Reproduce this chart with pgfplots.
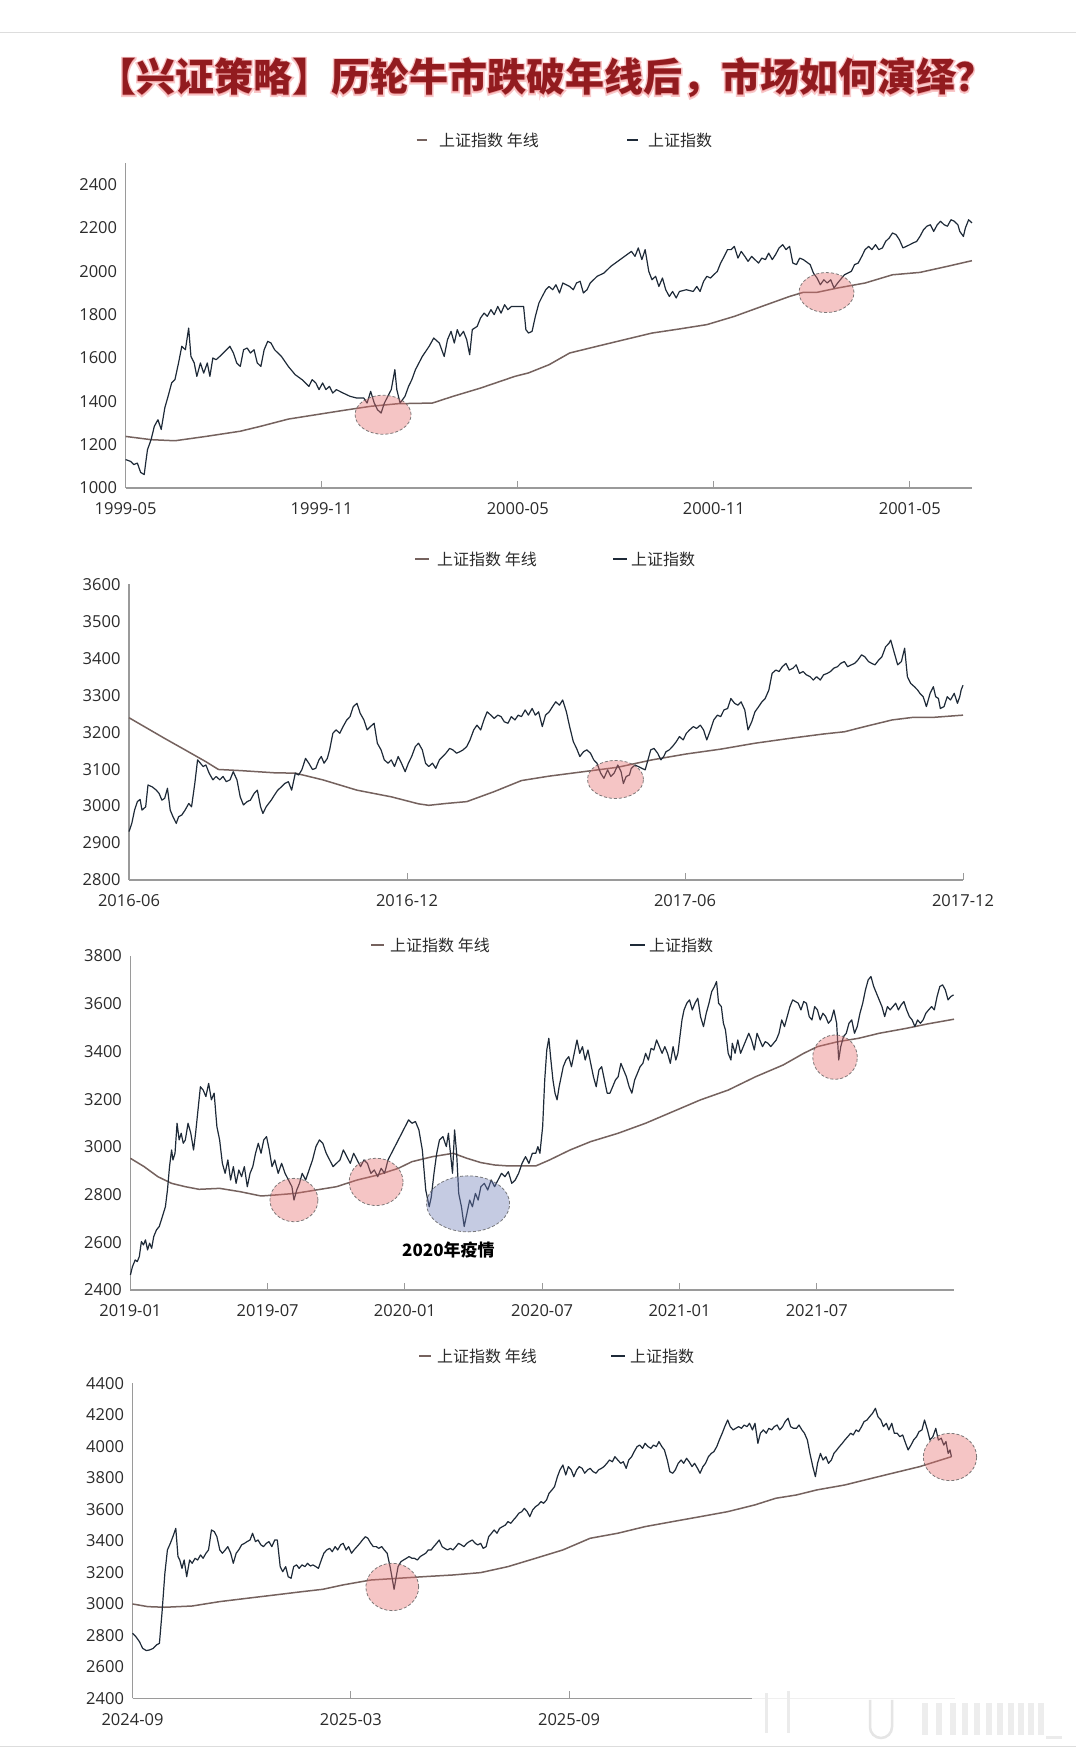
\documentclass[border=0pt]{standalone}
\usepackage{pgfplots}
\pgfplotsset{compat=1.18}
\usepackage{fontspec}
\setmainfont{Open Sans}
\newfontfamily\cjk{Noto Sans CJK SC}
\newfontfamily\cjkhalo{Noto Sans CJK SC}[BoldFeatures={FakeBold=8}]
\newfontfamily\tickfamily{Open Sans}

\definecolor{idx}{HTML}{1E2A38}
\definecolor{ma}{HTML}{75625E}
\definecolor{axisgray}{HTML}{9A9A9A}
\definecolor{labelgray}{HTML}{2B2B2B}
\definecolor{titlered}{HTML}{921B1F}
\definecolor{glow}{HTML}{E8383D}
\definecolor{pinkfill}{HTML}{E67070}
\definecolor{bluefill}{HTML}{6F7DB8}
\definecolor{ringgray}{HTML}{5E5E5E}
\definecolor{framegray}{HTML}{DDDDDD}

\newcommand\ticks{\tickfamily\fontsize{16.5}{18}\selectfont}
\newcommand\legfont{\cjk\fontsize{16}{18}\selectfont}
\newcommand\titlefont{\cjk\bfseries\fontsize{39}{44}\selectfont}
\newcommand\halofont{\cjkhalo\bfseries\fontsize{39}{44}\selectfont}
\newcommand\notefont{\cjk\bfseries\fontsize{17}{19}\selectfont}

\pgfplotsset{
  panel/.style={
    scale only axis, anchor=south west, clip=false,
    axis x line*=bottom, axis y line*=left,
    axis line style={draw=axisgray, line width=1.3pt},
    tick align=inside, major tick length=7pt,
    xtick style={draw=axisgray, line width=1pt},
    ytick style={draw=none},
    /pgf/number format/assume math mode=true,
    /pgf/number format/1000 sep={},
    scaled y ticks=false,
    tick label style={font=\ticks, text=labelgray},
    yticklabel style={anchor=east, xshift=-5pt},
    xticklabel style={anchor=base, yshift=-27pt},
  },
  idxline/.style={draw=idx, line width=1.2pt, line join=round, mark=none},
  maline/.style={draw=ma, line width=1.5pt, line join=round, mark=none},
}
\tikzset{
  hot/.style={fill=pinkfill, fill opacity=0.4, draw=ringgray, draw opacity=0.8, densely dashed, line width=0.8pt},
  cold/.style={fill=bluefill, fill opacity=0.4, draw=ringgray, draw opacity=0.8, densely dashed, line width=0.8pt},
  legtext/.style={anchor=west, inner sep=0pt, font=\legfont, text=labelgray},
}

\begin{document}
\begin{tikzpicture}
\path[use as bounding box, fill=white] (0pt,0pt) rectangle (1076pt,1753pt);
\draw[framegray, line width=1pt] (0pt,1720pt) -- (1076pt,1720pt);
\draw[framegray, line width=1pt] (0pt,6.5pt) -- (1076pt,6.5pt);

% headline: a widened light-red copy underneath gives the soft halo
\node[text=glow, text opacity=0.28, font=\halofont, inner sep=0pt] at (545.5pt,1675pt) {【兴证策略】历轮牛市跌破年线后，市场如何演绎？};
\node[text=titlered, font=\titlefont, inner sep=0pt] at (545.5pt,1675pt) {【兴证策略】历轮牛市跌破年线后，市场如何演绎？};

% ---------- 1999-2001 ----------
\draw[ma, line width=2pt] (416.5pt,1613pt) -- (427pt,1613pt);
\node[legtext] at (439pt,1613pt) {上证指数 年线};
\draw[idx, line width=2pt] (627pt,1613pt) -- (637.5pt,1613pt);
\node[legtext] at (648pt,1613pt) {上证指数};

\begin{axis}[panel, at={(125.6pt,1265pt)}, width=846.3pt, height=325pt,
  xmin=0, xmax=25.9, ymin=1000, ymax=2500,
  ytick={1000,1200,...,2400},
  xtick={0,6,12,18,24}, xticklabels={1999-05,1999-11,2000-05,2000-11,2001-05}]
\addplot[maline] coordinates {(0,1238)(0.78,1223)(1.51,1218)(2.46,1238)(3.51,1262)(4.14,1285)(4.98,1318)(5.82,1338)(6.66,1358)(7.50,1377)(8.34,1389)(9.39,1392)(10.02,1423)(10.86,1461)(11.91,1515)(12.33,1531)(12.96,1569)(13.59,1623)(14.43,1654)(15.06,1677)(16.11,1715)(16.95,1734)(17.79,1754)(18.63,1792)(19.47,1838)(20.32,1884)(20.74,1903)(21.16,1903)(21.79,1923)(22.63,1946)(23.47,1984)(24.31,1995)(25.15,2023)(25.90,2049)};
\addplot[idxline] coordinates {(0,1131)(0.15,1123)(0.25,1108)(0.36,1115)(0.46,1072)(0.57,1062)(0.61,1110)(0.67,1177)(0.78,1223)(0.88,1285)(0.99,1315)(1.09,1270)(1.20,1370)(1.30,1423)(1.41,1485)(1.51,1500)(1.62,1577)(1.72,1654)(1.83,1638)(1.93,1738)(2.00,1607)(2.10,1577)(2.18,1515)(2.29,1577)(2.39,1530)(2.50,1577)(2.58,1515)(2.67,1600)(2.77,1592)(2.88,1607)(3.09,1638)(3.19,1654)(3.30,1623)(3.40,1577)(3.51,1561)(3.61,1638)(3.72,1646)(3.82,1623)(3.93,1638)(4.03,1577)(4.14,1561)(4.24,1638)(4.35,1677)(4.45,1669)(4.56,1638)(4.77,1607)(4.98,1561)(5.19,1523)(5.40,1500)(5.61,1469)(5.71,1500)(5.82,1485)(5.92,1454)(6.03,1485)(6.13,1454)(6.24,1469)(6.34,1438)(6.45,1454)(6.66,1438)(6.87,1423)(7.08,1415)(7.29,1415)(7.39,1392)(7.50,1446)(7.61,1392)(7.71,1361)(7.82,1346)(7.92,1392)(8.13,1454)(8.24,1546)(8.30,1454)(8.40,1392)(8.55,1423)(8.66,1469)(8.76,1500)(8.87,1546)(9.08,1607)(9.29,1654)(9.43,1692)(9.60,1669)(9.75,1607)(9.85,1684)(9.96,1723)(10.06,1669)(10.15,1731)(10.23,1700)(10.34,1723)(10.44,1684)(10.53,1615)(10.61,1731)(10.76,1746)(10.86,1784)(10.97,1807)(11.07,1792)(11.18,1823)(11.28,1800)(11.39,1838)(11.49,1807)(11.60,1846)(11.70,1823)(11.81,1838)(11.91,1838)(12.18,1838)(12.25,1731)(12.33,1715)(12.44,1723)(12.54,1792)(12.65,1854)(12.75,1884)(12.86,1915)(12.96,1930)(13.07,1915)(13.17,1938)(13.28,1900)(13.38,1946)(13.59,1930)(13.70,1915)(13.80,1946)(13.91,1954)(14.01,1900)(14.12,1915)(14.22,1946)(14.43,1977)(14.64,1992)(14.85,2023)(15.06,2046)(15.27,2069)(15.48,2092)(15.59,2069)(15.69,2108)(15.80,2054)(15.90,2100)(16.01,2000)(16.11,1961)(16.22,1977)(16.32,1930)(16.43,1969)(16.53,1915)(16.64,1884)(16.74,1907)(16.85,1877)(16.95,1907)(17.16,1915)(17.37,1907)(17.48,1930)(17.58,1907)(17.69,1954)(17.79,1977)(17.90,1969)(18.00,1984)(18.11,2000)(18.21,2038)(18.32,2069)(18.42,2100)(18.53,2100)(18.63,2115)(18.74,2061)(18.84,2092)(18.95,2069)(19.05,2046)(19.16,2069)(19.26,2054)(19.37,2038)(19.47,2061)(19.58,2054)(19.68,2084)(19.79,2054)(19.89,2077)(20.00,2108)(20.11,2123)(20.21,2100)(20.32,2115)(20.42,2038)(20.53,2031)(20.63,2061)(20.74,2054)(20.95,2031)(21.05,1992)(21.16,1969)(21.26,1938)(21.37,1961)(21.47,1946)(21.58,1961)(21.68,1923)(21.79,1946)(22.00,1984)(22.21,2000)(22.31,2031)(22.42,2038)(22.53,2069)(22.63,2100)(22.74,2115)(22.84,2100)(22.95,2123)(23.05,2100)(23.16,2108)(23.26,2138)(23.37,2154)(23.47,2177)(23.58,2169)(23.68,2146)(23.79,2108)(23.89,2115)(24.00,2123)(24.10,2131)(24.21,2138)(24.31,2161)(24.42,2192)(24.52,2208)(24.63,2215)(24.73,2184)(24.84,2215)(24.94,2231)(25.05,2215)(25.15,2208)(25.26,2238)(25.36,2231)(25.47,2215)(25.53,2184)(25.64,2161)(25.70,2200)(25.80,2238)(25.90,2223)};
\draw[hot] (axis cs:7.88,1338) ellipse [x radius=28pt, y radius=19.5pt];
\draw[hot] (axis cs:21.45,1902) ellipse [x radius=27.5pt, y radius=20pt];
\end{axis}

% ---------- 2016-2017 ----------
\draw[ma, line width=2pt] (415pt,1194pt) -- (429pt,1194pt);
\node[legtext] at (437pt,1194pt) {上证指数 年线};
\draw[idx, line width=2pt] (613pt,1194pt) -- (627pt,1194pt);
\node[legtext] at (631pt,1194pt) {上证指数};

\begin{axis}[panel, at={(129pt,873pt)}, width=834pt, height=295.7pt,
  xmin=0, xmax=18, ymin=2800, ymax=3600,
  ytick={2800,2900,...,3600},
  xtick={0,6,12,18}, xticklabels={2016-06,2016-12,2017-06,2017-12}]
\addplot[maline] coordinates {(0,3239)(0.33,3215)(0.77,3183)(1.21,3152)(1.66,3120)(1.93,3099)(2.40,3096)(3.14,3090)(3.59,3089)(4.18,3071)(4.92,3043)(5.66,3025)(6.25,3006)(6.47,3002)(6.84,3007)(7.29,3012)(7.88,3039)(8.47,3069)(9.07,3081)(9.81,3093)(10.55,3105)(11.29,3125)(12.03,3141)(12.77,3154)(13.51,3170)(14.25,3183)(14.99,3195)(15.44,3201)(15.88,3215)(16.47,3233)(16.92,3240)(17.36,3240)(18.00,3246)};
\addplot[idxline] coordinates {(0,2931)(0.06,2953)(0.12,2989)(0.18,3012)(0.24,3018)(0.28,2989)(0.36,2998)(0.41,3057)(0.50,3052)(0.59,3043)(0.65,3034)(0.71,3016)(0.77,3021)(0.83,3048)(0.89,2989)(0.95,2971)(1.02,2953)(1.07,2971)(1.14,2976)(1.21,2989)(1.29,3007)(1.35,2998)(1.42,3061)(1.48,3125)(1.54,3116)(1.60,3107)(1.66,3111)(1.73,3089)(1.81,3071)(1.88,3080)(1.96,3071)(2.03,3080)(2.10,3066)(2.18,3071)(2.25,3093)(2.33,3071)(2.40,3025)(2.47,3003)(2.55,3012)(2.62,3016)(2.70,3034)(2.77,3043)(2.84,2998)(2.89,2980)(2.96,2998)(3.07,3016)(3.14,3030)(3.21,3043)(3.29,3052)(3.36,3061)(3.44,3066)(3.51,3043)(3.59,3089)(3.66,3084)(3.73,3098)(3.81,3129)(3.88,3116)(3.96,3099)(4.03,3102)(4.10,3125)(4.15,3134)(4.21,3116)(4.28,3129)(4.33,3152)(4.40,3197)(4.47,3206)(4.55,3197)(4.62,3215)(4.70,3233)(4.77,3242)(4.84,3269)(4.92,3278)(4.99,3251)(5.07,3233)(5.14,3206)(5.21,3215)(5.29,3224)(5.36,3170)(5.44,3152)(5.51,3125)(5.59,3116)(5.66,3125)(5.73,3107)(5.81,3134)(5.88,3116)(5.96,3093)(6.03,3116)(6.10,3134)(6.18,3161)(6.25,3170)(6.33,3152)(6.40,3116)(6.47,3107)(6.55,3116)(6.62,3102)(6.70,3125)(6.77,3134)(6.84,3143)(6.92,3156)(6.99,3152)(7.07,3143)(7.14,3147)(7.21,3152)(7.29,3161)(7.36,3179)(7.44,3206)(7.51,3219)(7.59,3206)(7.66,3233)(7.73,3255)(7.81,3246)(7.88,3237)(7.96,3246)(8.03,3242)(8.10,3228)(8.18,3224)(8.25,3242)(8.33,3233)(8.40,3246)(8.47,3242)(8.55,3260)(8.62,3246)(8.70,3264)(8.77,3246)(8.84,3255)(8.92,3215)(8.99,3246)(9.07,3255)(9.14,3269)(9.21,3282)(9.29,3273)(9.36,3287)(9.44,3255)(9.51,3215)(9.59,3174)(9.66,3156)(9.73,3134)(9.81,3147)(9.88,3152)(9.96,3143)(10.03,3125)(10.10,3116)(10.18,3089)(10.25,3075)(10.33,3098)(10.40,3080)(10.47,3089)(10.55,3111)(10.62,3093)(10.67,3061)(10.73,3080)(10.80,3084)(10.84,3102)(10.92,3111)(10.99,3107)(11.07,3102)(11.14,3098)(11.21,3129)(11.26,3152)(11.33,3156)(11.41,3143)(11.48,3125)(11.54,3134)(11.59,3147)(11.66,3152)(11.73,3161)(11.81,3174)(11.88,3188)(11.96,3179)(12.03,3197)(12.10,3206)(12.18,3215)(12.25,3210)(12.33,3219)(12.40,3206)(12.47,3179)(12.55,3206)(12.62,3233)(12.70,3246)(12.77,3242)(12.84,3260)(12.92,3264)(12.99,3291)(13.07,3278)(13.14,3273)(13.21,3282)(13.29,3260)(13.36,3206)(13.44,3228)(13.51,3255)(13.59,3269)(13.66,3282)(13.73,3291)(13.81,3314)(13.88,3359)(13.96,3368)(14.03,3364)(14.10,3377)(14.18,3386)(14.25,3368)(14.33,3373)(14.40,3382)(14.47,3359)(14.55,3364)(14.62,3355)(14.70,3350)(14.77,3341)(14.84,3350)(14.92,3341)(14.99,3355)(15.07,3359)(15.14,3364)(15.21,3373)(15.29,3377)(15.36,3386)(15.44,3391)(15.51,3377)(15.59,3382)(15.66,3386)(15.73,3395)(15.81,3409)(15.88,3404)(15.96,3391)(16.03,3386)(16.10,3382)(16.18,3395)(16.25,3404)(16.33,3431)(16.40,3440)(16.44,3449)(16.52,3413)(16.59,3382)(16.67,3391)(16.74,3427)(16.80,3350)(16.87,3332)(16.95,3323)(17.02,3314)(17.07,3305)(17.14,3296)(17.21,3269)(17.29,3305)(17.36,3323)(17.41,3296)(17.47,3291)(17.51,3264)(17.59,3269)(17.66,3296)(17.73,3287)(17.81,3305)(17.88,3278)(17.93,3296)(17.96,3314)(18.00,3327)};
\draw[hot] (axis cs:10.50,3072) ellipse [x radius=28pt, y radius=19pt];
\end{axis}

% ---------- 2019-2021 ----------
\draw[ma, line width=2pt] (371pt,808pt) -- (384pt,808pt);
\node[legtext] at (390pt,808pt) {上证指数 年线};
\draw[idx, line width=2pt] (630pt,808pt) -- (645pt,808pt);
\node[legtext] at (649pt,808pt) {上证指数};

\begin{axis}[panel, at={(130.4pt,463pt)}, width=823.6pt, height=334pt,
  xmin=0, xmax=36, ymin=2400, ymax=3800,
  ytick={2400,2600,...,3800},
  xtick={0,6,12,18,24,30}, xticklabels={2019-01,2019-07,2020-01,2020-07,2021-01,2021-07}]
\addplot[maline] coordinates {(0,2952)(0.60,2917)(1.20,2875)(1.80,2847)(2.40,2833)(3.00,2822)(3.90,2826)(4.80,2812)(5.71,2794)(6.31,2798)(7.21,2805)(8.11,2819)(9.01,2833)(9.91,2861)(10.81,2882)(11.71,2910)(12.31,2938)(13.21,2959)(14.11,2973)(14.71,2952)(15.32,2934)(15.92,2924)(16.52,2920)(17.12,2920)(17.72,2920)(18.32,2945)(19.22,2987)(20.12,3022)(21.32,3057)(22.52,3099)(23.72,3148)(24.92,3197)(26.13,3238)(27.33,3294)(28.53,3343)(29.43,3392)(30.03,3420)(30.93,3441)(31.83,3455)(32.73,3476)(33.93,3497)(34.83,3515)(36.00,3535)};
\addplot[idxline] coordinates {(0,2463)(0.09,2498)(0.21,2526)(0.30,2519)(0.39,2540)(0.48,2603)(0.57,2589)(0.66,2610)(0.75,2568)(0.84,2596)(0.93,2575)(1.02,2624)(1.14,2652)(1.26,2666)(1.35,2693)(1.44,2721)(1.53,2749)(1.62,2819)(1.71,2917)(1.80,2987)(1.86,2945)(1.95,2973)(2.04,3099)(2.13,3029)(2.22,3057)(2.31,3015)(2.40,3029)(2.52,3099)(2.64,3057)(2.76,2987)(2.85,3057)(2.94,3141)(3.06,3252)(3.18,3238)(3.30,3211)(3.42,3266)(3.54,3197)(3.66,3225)(3.78,3085)(3.90,3029)(4.02,2931)(4.14,2889)(4.26,2945)(4.38,2861)(4.50,2917)(4.62,2847)(4.74,2903)(4.86,2875)(4.98,2917)(5.11,2833)(5.23,2889)(5.35,2917)(5.47,2973)(5.59,3015)(5.71,2973)(5.83,3029)(5.95,3043)(6.07,2987)(6.19,2917)(6.31,2945)(6.46,2889)(6.61,2931)(6.76,2889)(6.91,2861)(7.06,2833)(7.15,2777)(7.27,2819)(7.39,2847)(7.51,2889)(7.66,2861)(7.81,2903)(7.96,2945)(8.11,3001)(8.26,3029)(8.41,3015)(8.56,2973)(8.71,2945)(8.86,2917)(9.01,2931)(9.16,2945)(9.31,2987)(9.46,2959)(9.61,2931)(9.76,2973)(9.91,2945)(10.06,2917)(10.21,2945)(10.36,2931)(10.51,2889)(10.66,2903)(10.81,2875)(10.96,2910)(11.11,2889)(11.26,2945)(11.41,2973)(11.56,3001)(11.71,3029)(11.86,3057)(12.01,3085)(12.16,3113)(12.31,3099)(12.46,3106)(12.61,3071)(12.76,2987)(12.91,2819)(13.06,2749)(13.15,2789)(13.27,2889)(13.39,2973)(13.51,3029)(13.66,3043)(13.81,3001)(13.90,3057)(13.99,2973)(14.08,2889)(14.17,3071)(14.26,2973)(14.35,2805)(14.47,2749)(14.59,2666)(14.71,2721)(14.83,2777)(14.95,2749)(15.08,2805)(15.20,2777)(15.32,2833)(15.47,2847)(15.62,2819)(15.77,2861)(15.92,2833)(16.07,2861)(16.22,2889)(16.37,2875)(16.52,2896)(16.67,2847)(16.82,2861)(16.97,2889)(17.12,2931)(17.27,2959)(17.42,2931)(17.57,2973)(17.72,2973)(17.81,3001)(17.90,2973)(18.02,3085)(18.11,3280)(18.20,3406)(18.29,3455)(18.38,3364)(18.47,3280)(18.56,3225)(18.65,3197)(18.74,3252)(18.83,3294)(18.92,3336)(19.04,3364)(19.16,3378)(19.28,3336)(19.40,3392)(19.52,3448)(19.64,3392)(19.76,3420)(19.88,3364)(20.00,3406)(20.12,3350)(20.24,3294)(20.36,3252)(20.48,3322)(20.60,3336)(20.72,3280)(20.84,3225)(20.96,3225)(21.08,3252)(21.20,3280)(21.32,3294)(21.44,3350)(21.56,3322)(21.68,3294)(21.80,3252)(21.92,3225)(22.04,3280)(22.16,3308)(22.28,3336)(22.40,3350)(22.52,3392)(22.64,3364)(22.76,3413)(22.88,3406)(23.00,3448)(23.12,3420)(23.24,3392)(23.36,3420)(23.48,3392)(23.60,3350)(23.72,3420)(23.84,3364)(23.93,3392)(24.02,3462)(24.11,3532)(24.20,3574)(24.32,3602)(24.44,3616)(24.56,3574)(24.68,3602)(24.80,3623)(24.92,3546)(25.05,3504)(25.17,3560)(25.29,3602)(25.41,3651)(25.53,3672)(25.62,3693)(25.71,3602)(25.83,3588)(25.92,3518)(26.01,3490)(26.13,3392)(26.25,3364)(26.31,3434)(26.43,3392)(26.55,3448)(26.67,3392)(26.79,3420)(26.91,3448)(27.03,3476)(27.15,3448)(27.27,3406)(27.39,3476)(27.51,3448)(27.63,3420)(27.75,3441)(27.87,3434)(27.99,3420)(28.11,3434)(28.23,3448)(28.35,3476)(28.47,3532)(28.59,3504)(28.71,3546)(28.83,3588)(28.95,3616)(29.07,3609)(29.19,3602)(29.31,3574)(29.43,3609)(29.55,3602)(29.67,3546)(29.79,3532)(29.91,3588)(30.03,3574)(30.15,3532)(30.27,3560)(30.39,3546)(30.51,3518)(30.63,3532)(30.75,3574)(30.87,3518)(30.96,3364)(31.05,3420)(31.17,3462)(31.29,3476)(31.41,3518)(31.53,3532)(31.65,3476)(31.77,3504)(31.89,3560)(32.01,3602)(32.13,3658)(32.25,3700)(32.37,3714)(32.49,3672)(32.61,3644)(32.73,3616)(32.85,3588)(32.97,3546)(33.09,3588)(33.21,3574)(33.33,3588)(33.45,3602)(33.57,3574)(33.69,3595)(33.81,3609)(33.93,3574)(34.05,3546)(34.17,3532)(34.29,3504)(34.41,3532)(34.53,3518)(34.65,3532)(34.77,3560)(34.89,3574)(35.02,3588)(35.14,3574)(35.26,3630)(35.38,3672)(35.50,3679)(35.62,3658)(35.74,3616)(35.86,3630)(35.98,3637)};
\draw[hot] (axis cs:7.15,2777) ellipse [x radius=24pt, y radius=21.7pt];
\draw[hot] (axis cs:10.74,2853) ellipse [x radius=27pt, y radius=23.7pt];
\draw[cold] (axis cs:14.76,2761) ellipse [x radius=41.5pt, y radius=28pt];
\draw[hot] (axis cs:30.80,3376) ellipse [x radius=22.3pt, y radius=22.2pt];
\node[font=\notefont, text=black] at (axis cs:13.9,2567) {2020年疫情};
\end{axis}

% ---------- 2024-2026 ----------
\draw[ma, line width=2pt] (419pt,397pt) -- (431pt,397pt);
\node[legtext] at (437pt,397pt) {上证指数 年线};
\draw[idx, line width=2pt] (611pt,397pt) -- (625pt,397pt);
\node[legtext] at (630pt,397pt) {上证指数};

\begin{axis}[panel, at={(132.5pt,54.7pt)}, width=822.2pt, height=315pt,
  xmin=0, xmax=22.6, ymin=2400, ymax=4400,
  ytick={2400,2600,...,4400},
  xtick={0,6,12}, xticklabels={2024-09,2025-03,2025-09}]
\addplot[maline] coordinates {(0,2999)(0.42,2982)(0.89,2978)(1.64,2986)(2.40,3014)(3.15,3035)(3.91,3056)(4.66,3077)(5.23,3092)(5.79,3120)(6.55,3151)(7.30,3162)(8.06,3173)(8.81,3183)(9.57,3198)(10.32,3236)(11.08,3289)(11.83,3342)(12.58,3416)(13.34,3448)(14.09,3490)(14.85,3522)(15.60,3553)(16.36,3585)(17.11,3628)(17.68,3670)(18.25,3691)(18.81,3723)(19.57,3754)(20.13,3786)(20.89,3829)(21.64,3871)(22.51,3934)};
\addplot[idxline] coordinates {(0,2813)(0.09,2792)(0.19,2760)(0.28,2717)(0.38,2703)(0.47,2707)(0.57,2717)(0.66,2739)(0.74,2749)(0.81,2940)(0.89,3194)(0.96,3342)(1.04,3384)(1.11,3426)(1.19,3479)(1.25,3300)(1.30,3278)(1.36,3225)(1.42,3278)(1.49,3172)(1.57,3278)(1.64,3257)(1.72,3289)(1.79,3278)(1.87,3310)(1.94,3289)(2.02,3321)(2.09,3342)(2.17,3469)(2.25,3458)(2.32,3426)(2.40,3342)(2.47,3321)(2.55,3342)(2.62,3363)(2.70,3321)(2.77,3257)(2.85,3321)(2.92,3342)(3.00,3374)(3.08,3384)(3.15,3395)(3.23,3405)(3.30,3448)(3.38,3395)(3.45,3405)(3.53,3374)(3.60,3363)(3.68,3384)(3.75,3395)(3.83,3363)(3.91,3405)(3.98,3405)(4.06,3236)(4.13,3204)(4.21,3236)(4.28,3172)(4.36,3162)(4.43,3236)(4.51,3247)(4.58,3225)(4.66,3247)(4.74,3236)(4.81,3257)(4.89,3240)(4.96,3247)(5.04,3236)(5.11,3225)(5.19,3278)(5.26,3321)(5.34,3342)(5.42,3352)(5.49,3331)(5.57,3363)(5.64,3342)(5.72,3374)(5.79,3384)(5.87,3342)(5.94,3363)(6.02,3321)(6.09,3342)(6.17,3363)(6.25,3384)(6.32,3405)(6.40,3426)(6.47,3416)(6.55,3384)(6.62,3363)(6.70,3363)(6.77,3352)(6.85,3363)(6.92,3342)(7.00,3321)(7.08,3236)(7.13,3172)(7.19,3092)(7.25,3172)(7.30,3236)(7.38,3268)(7.45,3278)(7.53,3289)(7.60,3300)(7.68,3289)(7.75,3289)(7.83,3278)(7.91,3300)(7.98,3310)(8.06,3321)(8.13,3342)(8.21,3342)(8.28,3363)(8.36,3384)(8.43,3405)(8.51,3363)(8.58,3352)(8.66,3342)(8.74,3352)(8.81,3342)(8.89,3363)(8.96,3384)(9.04,3374)(9.11,3363)(9.19,3384)(9.26,3395)(9.34,3405)(9.42,3384)(9.49,3374)(9.57,3384)(9.64,3352)(9.72,3363)(9.79,3426)(9.87,3448)(9.94,3469)(10.02,3448)(10.09,3479)(10.17,3490)(10.25,3500)(10.32,3522)(10.40,3511)(10.47,3532)(10.55,3553)(10.62,3575)(10.70,3585)(10.77,3606)(10.85,3585)(10.92,3553)(11.00,3596)(11.08,3617)(11.15,3628)(11.23,3649)(11.30,3638)(11.38,3659)(11.45,3702)(11.53,3723)(11.60,3744)(11.68,3807)(11.75,3850)(11.83,3881)(11.91,3818)(11.98,3871)(12.06,3850)(12.13,3807)(12.21,3850)(12.28,3871)(12.36,3860)(12.43,3829)(12.51,3850)(12.58,3860)(12.66,3839)(12.74,3829)(12.81,3850)(12.89,3860)(12.96,3871)(13.04,3892)(13.11,3913)(13.19,3902)(13.26,3934)(13.34,3913)(13.42,3892)(13.49,3902)(13.57,3860)(13.64,3913)(13.72,3934)(13.79,3966)(13.87,3998)(13.94,4008)(14.02,3987)(14.09,4019)(14.17,3998)(14.25,3987)(14.32,4008)(14.40,3998)(14.47,4030)(14.55,3998)(14.62,3977)(14.70,3913)(14.77,3839)(14.85,3829)(14.92,3850)(15.00,3892)(15.08,3913)(15.15,3892)(15.23,3924)(15.30,3902)(15.38,3871)(15.45,3892)(15.53,3860)(15.60,3829)(15.68,3871)(15.75,3892)(15.83,3934)(15.91,3955)(15.98,3966)(16.06,3998)(16.13,4040)(16.21,4083)(16.28,4125)(16.36,4167)(16.43,4125)(16.51,4104)(16.58,4114)(16.66,4125)(16.74,4114)(16.81,4135)(16.89,4125)(16.96,4146)(17.04,4104)(17.11,4146)(17.19,4019)(17.26,4083)(17.34,4104)(17.42,4083)(17.49,4114)(17.57,4104)(17.64,4125)(17.72,4135)(17.79,4104)(17.87,4125)(17.94,4157)(18.02,4178)(18.09,4125)(18.17,4114)(18.25,4114)(18.32,4135)(18.40,4104)(18.47,4083)(18.55,4040)(18.62,3955)(18.70,3871)(18.77,3807)(18.83,3892)(18.91,3955)(18.98,3913)(19.06,3934)(19.13,3892)(19.21,3913)(19.28,3955)(19.36,3977)(19.43,3998)(19.51,4019)(19.58,4040)(19.66,4061)(19.74,4083)(19.81,4072)(19.89,4104)(19.96,4093)(20.04,4125)(20.11,4157)(20.19,4167)(20.26,4188)(20.34,4209)(20.42,4241)(20.49,4188)(20.57,4167)(20.64,4125)(20.72,4146)(20.79,4104)(20.87,4146)(20.94,4083)(21.02,4083)(21.09,4061)(21.17,4072)(21.25,4019)(21.32,3977)(21.40,4008)(21.47,4040)(21.55,4061)(21.62,4093)(21.70,4104)(21.77,4167)(21.85,4104)(21.92,4040)(22.00,4061)(22.08,4114)(22.15,4040)(22.23,4051)(22.30,4008)(22.36,4030)(22.42,3955)(22.47,3977)(22.51,3934)};
\draw[hot] (axis cs:7.14,3107) ellipse [x radius=26.4pt, y radius=23.7pt];
\draw[hot] (axis cs:22.47,3932) ellipse [x radius=26.7pt, y radius=23.7pt];
\end{axis}

% faded watermark strip at the lower right
\fill[white, opacity=0.85] (752pt,9pt) rectangle (1076pt,73pt);
\fill[black!8] (765pt,20pt) rectangle (768pt,60pt);
\fill[black!8] (787pt,20pt) rectangle (790pt,62pt);
\draw[black!10, line width=2.5pt] (870pt,53pt) -- (870pt,26pt) arc[start angle=180, end angle=360, radius=11pt] -- (892pt,53pt);
\foreach \bx in {922,936,950,962,974,986,997,1008,1018,1028,1038}
  \fill[black!7] (\bx pt,18pt) rectangle ++(6pt,32pt);
\fill[black!8] (1046pt,14pt) rectangle (1062pt,17pt);
\end{tikzpicture}
\end{document}
